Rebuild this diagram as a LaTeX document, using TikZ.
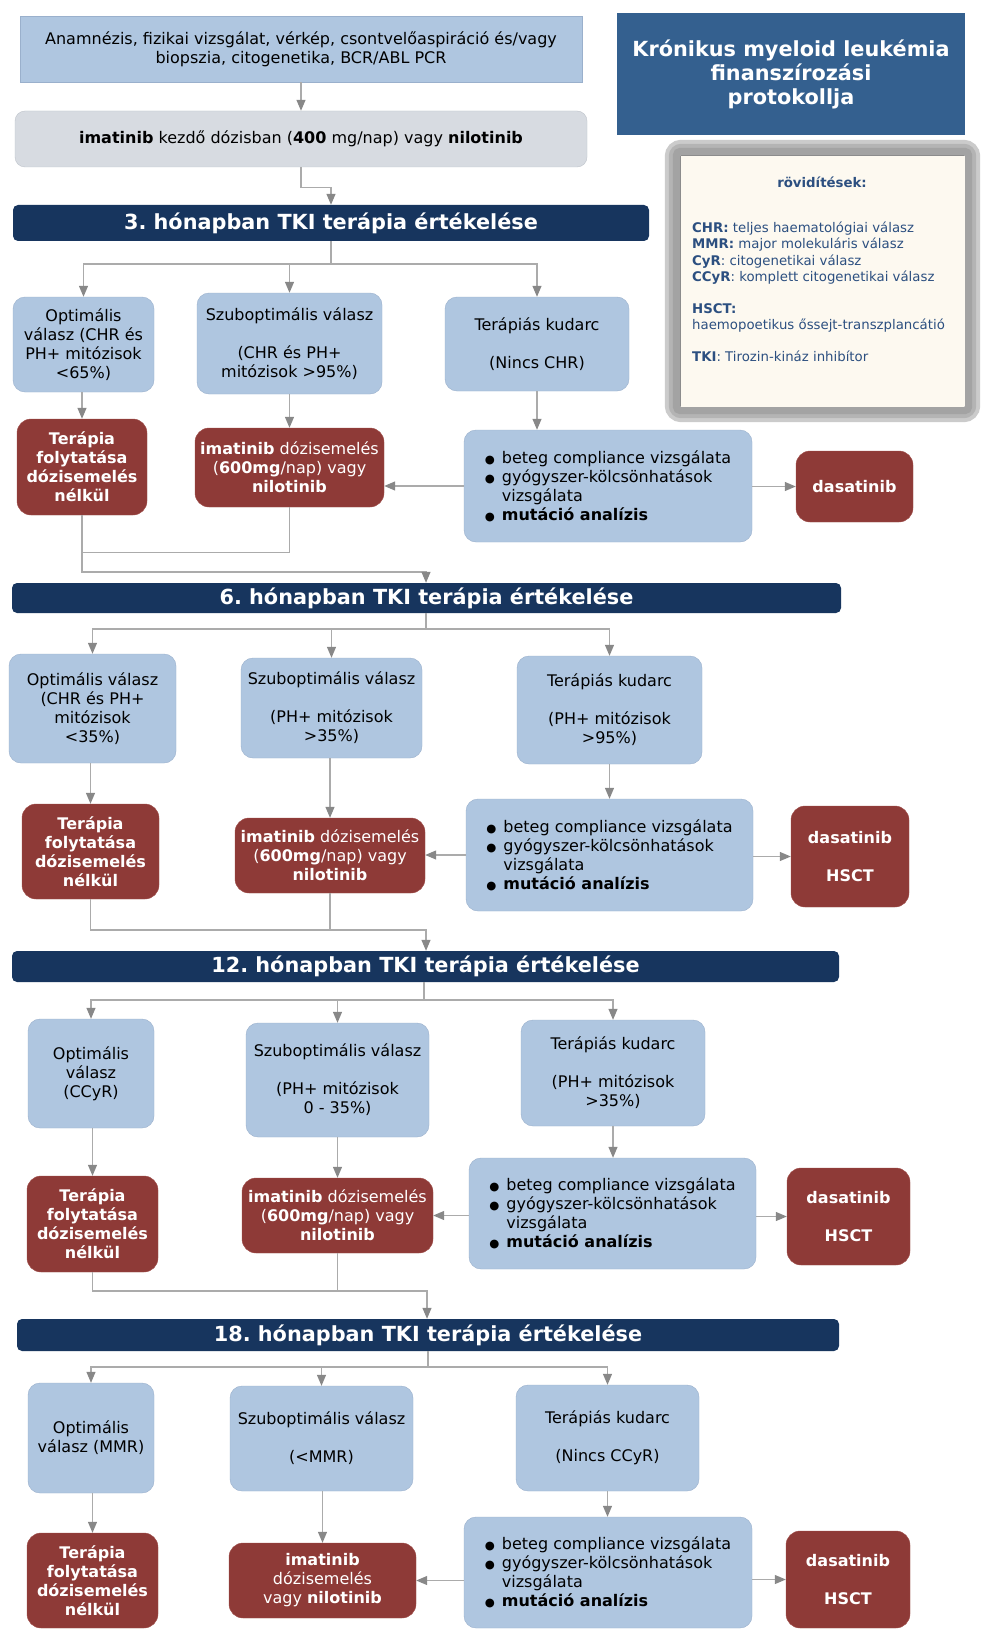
\documentclass[tikz,border=0pt]{standalone}
\usepackage{fontspec}
\setmainfont{DejaVu Sans}
\usetikzlibrary{arrows.meta}
\frenchspacing

\definecolor{boxblue}{HTML}{AFC6E0}
\definecolor{boxblueline}{HTML}{9AB0CC}
\definecolor{boxred}{HTML}{8E3A37}
\definecolor{boxredline}{HTML}{A0504C}
\definecolor{barnavy}{HTML}{17355E}
\definecolor{titleblue}{HTML}{34608F}
\definecolor{startgrey}{HTML}{D7DBE1}
\definecolor{startline}{HTML}{BFC4CB}
\definecolor{legendtext}{HTML}{2C4F80}
\definecolor{legendfill}{HTML}{FDF9F0}
\definecolor{connline}{HTML}{ABABAB}
\definecolor{conntip}{HTML}{888888}
\definecolor{framegrey}{HTML}{8C8C8C}

\newcommand{\chk}{\makebox[17pt][l]{\fontsize{11.5}{19}\selectfont ●}}
\newcommand{\chkgap}{\makebox[17pt]{}}

\tikzset{
    wh/.style 2 args={minimum width=#1pt,minimum height=#2pt},
    answer/.style={draw=boxblueline,fill=boxblue,rounded corners=12pt,inner sep=0pt,align=center,font=\fontsize{16}{19}\selectfont},
    failure/.style={answer},
    checks/.style={answer,align=left},
    therapy/.style={draw=boxredline,fill=boxred,text=white,rounded corners=14pt,inner sep=0pt,align=center,font=\fontsize{16}{19}\selectfont\bfseries},
    dose/.style={therapy,font=\fontsize{16}{19}\selectfont},
    drug/.style={therapy},
    stage/.style={fill=barnavy,text=white,rounded corners=5pt,inner sep=0pt,font=\fontsize{20.8}{24}\selectfont\bfseries},
    conn/.style={draw=connline,line width=1.2pt},
    arr/.style={conn,-{Triangle[width=9pt,length=11pt,color=conntip]}}
}

\begin{document}
\begin{tikzpicture}[x=1pt,y=-1pt]
    \fill[white] (0,0) rectangle (994,1637);
    \useasboundingbox (0,0) rectangle (994,1637);

    \node[draw=boxblueline,fill=boxblue,inner sep=0pt,align=center,font=\fontsize{16}{19}\selectfont,wh={562}{66}] (exam) at (301,49) {Anamnézis, fizikai vizsgálat, vérkép, csontvelőaspiráció és/vagy\\biopszia, citogenetika, BCR/ABL PCR};
    \node[draw=startline,fill=startgrey,rounded corners=10pt,inner sep=0pt,font=\fontsize{16}{19}\selectfont,wh={572}{56}] (start) at (301,139) {\textbf{imatinib} kezdő dózisban (\textbf{400} mg/nap) vagy \textbf{nilotinib}};
    \node[fill=titleblue,text=white,inner sep=0pt,align=center,font=\fontsize{20.8}{24}\selectfont\bfseries,wh={348}{122}] (title) at (791,74) {Krónikus myeloid leukémia\\finanszírozási\\protokollja};

    \node[fill=legendfill,draw=framegrey,inner sep=0pt,wh={285}{252}] (legend) at (822.5,281) {};
    \draw[line width=15pt,framegrey!45,rounded corners=9pt] ([shift={(-7.5pt,7.5pt)}]legend.north west) rectangle ([shift={(7.5pt,-7.5pt)}]legend.south east);
    \draw[line width=11pt,framegrey!65,rounded corners=7pt] ([shift={(-5.5pt,5.5pt)}]legend.north west) rectangle ([shift={(5.5pt,-5.5pt)}]legend.south east);
    \draw[line width=7pt,framegrey!80,rounded corners=4pt] ([shift={(-3.5pt,3.5pt)}]legend.north west) rectangle ([shift={(3.5pt,-3.5pt)}]legend.south east);
    \node[text=legendtext,font=\fontsize{13.3}{16.5}\selectfont\bfseries] (abbrhead) at (822,182) {rövidítések:};
    \node[text=legendtext,anchor=west,align=left,inner sep=0pt,font=\fontsize{13.3}{16.5}\selectfont] (abbrlist) at (692,291.5) {\textbf{CHR:} teljes haematológiai válasz\\\textbf{MMR:} major molekuláris válasz\\\textbf{CyR}: citogenetikai válasz\\\textbf{CCyR}: komplett citogenetikai válasz\\[15pt]\textbf{HSCT:}\\haemopoetikus őssejt-transzplancátió\\[15pt]\textbf{TKI}: Tirozin-kináz inhibítor};

    \node[stage,wh={636}{36}] (bar3) at (331,223) {3. hónapban TKI terápia értékelése};
    \node[answer,wh={141}{95}] (opt3) at (83.5,344.5) {Optimális\\válasz (CHR és\\PH+ mitózisok\\<65\%)};
    \node[answer,wh={185}{101}] (sub3) at (289.5,343.5) {Szuboptimális válasz\\[19pt](CHR és PH+\\mitózisok >95\%)};
    \node[failure,wh={184}{94}] (fail3) at (537,344) {Terápiás kudarc\\[18.5pt](Nincs CHR)};
    \node[therapy,wh={130}{96}] (cont3) at (82,467) {Terápia\\folytatása\\dózisemelés\\nélkül};
    \node[dose,wh={189}{79}] (dose3) at (289.5,467.5) {\textbf{imatinib} dózisemelés\\(\textbf{600mg}/nap) vagy\\\textbf{nilotinib}};
    \node[checks,wh={288}{112}] (check3) at (608,486) {\chk beteg compliance vizsgálata\\\chk gyógyszer-kölcsönhatások\\\chkgap vizsgálata\\\chk\textbf{mutáció analízis}};
    \node[drug,wh={117}{71}] (drug3) at (854.5,486.5) {dasatinib};

    \node[stage,wh={829}{30}] (bar6) at (426.5,598) {6. hónapban TKI terápia értékelése};
    \node[answer,wh={167}{109}] (opt6) at (92.5,708.5) {Optimális válasz\\(CHR és PH+\\mitózisok\\<35\%)};
    \node[answer,wh={181}{100}] (sub6) at (331.5,708) {Szuboptimális válasz\\[19pt](PH+ mitózisok\\>35\%)};
    \node[failure,wh={185}{108}] (fail6) at (609.5,710) {Terápiás kudarc\\[19pt](PH+ mitózisok\\>95\%)};
    \node[therapy,wh={137}{95}] (cont6) at (90.5,851.5) {Terápia\\folytatása\\dózisemelés\\nélkül};
    \node[dose,wh={190}{75}] (dose6) at (330,855.5) {\textbf{imatinib} dózisemelés\\(\textbf{600mg}/nap) vagy\\\textbf{nilotinib}};
    \node[checks,wh={287}{112}] (check6) at (609.5,855) {\chk beteg compliance vizsgálata\\\chk gyógyszer-kölcsönhatások\\\chkgap vizsgálata\\\chk\textbf{mutáció analízis}};
    \node[drug,wh={118}{101}] (drug6) at (850,856.5) {dasatinib\\[19pt]HSCT};

    \node[stage,wh={827}{31}] (bar12) at (425.5,966.5) {12. hónapban TKI terápia értékelése};
    \node[answer,wh={126}{109}] (opt12) at (91,1073.5) {Optimális\\válasz\\(CCyR)};
    \node[answer,wh={183}{114}] (sub12) at (337.5,1080) {Szuboptimális válasz\\[19pt](PH+ mitózisok\\0 - 35\%)};
    \node[failure,wh={184}{106}] (fail12) at (613,1073) {Terápiás kudarc\\[19pt](PH+ mitózisok\\>35\%)};
    \node[therapy,wh={131}{96}] (cont12) at (92.5,1224) {Terápia\\folytatása\\dózisemelés\\nélkül};
    \node[dose,wh={191}{75}] (dose12) at (337.5,1215.5) {\textbf{imatinib} dózisemelés\\(\textbf{600mg}/nap) vagy\\\textbf{nilotinib}};
    \node[checks,wh={287}{111}] (check12) at (612.5,1213.5) {\chk beteg compliance vizsgálata\\\chk gyógyszer-kölcsönhatások\\\chkgap vizsgálata\\\chk\textbf{mutáció analízis}};
    \node[drug,wh={123}{97}] (drug12) at (848.5,1216.5) {dasatinib\\[19pt]HSCT};

    \node[stage,wh={822}{32}] (bar18) at (428,1335) {18. hónapban TKI terápia értékelése};
    \node[answer,wh={126}{110}] (opt18) at (91,1438) {Optimális\\válasz (MMR)};
    \node[answer,wh={183}{105}] (sub18) at (321.5,1438.5) {Szuboptimális válasz\\[19pt](<MMR)};
    \node[failure,wh={183}{106}] (fail18) at (607.5,1438) {Terápiás kudarc\\[19pt](Nincs CCyR)};
    \node[therapy,wh={131}{95}] (cont18) at (92.5,1580.5) {Terápia\\folytatása\\dózisemelés\\nélkül};
    \node[dose,wh={187}{75}] (dose18) at (322.5,1580.5) {\textbf{imatinib}\\dózisemelés\\vagy \textbf{nilotinib}};
    \node[checks,wh={288}{111}] (check18) at (608,1572.5) {\chk beteg compliance vizsgálata\\\chk gyógyszer-kölcsönhatások\\\chkgap vizsgálata\\\chk\textbf{mutáció analízis}};
    \node[drug,wh={124}{97}] (drug18) at (848,1579.5) {dasatinib\\[19pt]HSCT};

    \draw[arr] (exam) -- (start);
    \draw[arr] (start.south) -- ++(0,20) -| (bar3.north);

    \coordinate (split3) at (331,264);
    \draw[conn] (bar3.south) -- (split3);
    \draw[arr] (split3) -| (opt3);
    \draw[arr] (split3) -| (sub3);
    \draw[arr] (split3) -| (fail3);
    \draw[arr] (cont3 |- opt3.south) -- (cont3);
    \draw[arr] (dose3 |- sub3.south) -- (dose3);
    \draw[arr] (fail3) -- (fail3 |- check3.north);
    \draw[arr] (check3.west) -- (check3.west -| dose3.east);
    \draw[arr] (check3.east |- drug3) -- (drug3);
    \coordinate (join3) at (426,572);
    \draw[conn] (dose3.south) -- ++(0,45) -| (cont3.south);
    \draw[arr] (cont3.south) |- (join3) -- (join3 |- bar6.north);

    \coordinate (split6) at (426,629);
    \draw[conn] (split6 |- bar6.south) -- (split6);
    \draw[arr] (split6) -| (opt6);
    \draw[arr] (split6) -| (sub6);
    \draw[arr] (split6) -| (fail6);
    \draw[arr] (cont6 |- opt6.south) -- (cont6);
    \draw[arr] (dose6 |- sub6.south) -- (dose6);
    \draw[arr] (fail6) -- (fail6 |- check6.north);
    \draw[arr] (check6.west) -- (check6.west -| dose6.east);
    \draw[arr] (check6.east |- drug6) -- (drug6);
    \coordinate (join6) at (426,930);
    \draw[conn] (dose6.south) -- (dose6.south |- join6);
    \draw[arr] (cont6.south) |- (join6) -- (join6 |- bar12.north);

    \coordinate (split12) at (424,1000);
    \draw[conn] (split12 |- bar12.south) -- (split12);
    \draw[arr] (split12) -| (opt12);
    \draw[arr] (split12) -| (sub12);
    \draw[arr] (split12) -| (fail12);
    \draw[arr] (cont12 |- opt12.south) -- (cont12);
    \draw[arr] (dose12 |- sub12.south) -- (dose12);
    \draw[arr] (fail12) -- (fail12 |- check12.north);
    \draw[arr] (check12.west |- dose12) -- (dose12);
    \draw[arr] (check12.east |- drug12) -- (drug12);
    \coordinate (join12) at (427,1291);
    \draw[conn] (dose12.south) -- (dose12.south |- join12);
    \draw[arr] (cont12.south) |- (join12) -- (join12 |- bar18.north);

    \coordinate (split18) at (428,1367);
    \draw[conn] (split18 |- bar18.south) -- (split18);
    \draw[arr] (split18) -| (opt18);
    \draw[arr] (split18) -| (sub18);
    \draw[arr] (split18) -| (fail18);
    \draw[arr] (cont18 |- opt18.south) -- (cont18);
    \draw[arr] (dose18 |- sub18.south) -- (dose18);
    \draw[arr] (fail18) -- (fail18 |- check18.north);
    \draw[arr] (check18.west |- dose18) -- (dose18);
    \draw[arr] (check18.east |- drug18) -- (drug18);
\end{tikzpicture}
\end{document}
